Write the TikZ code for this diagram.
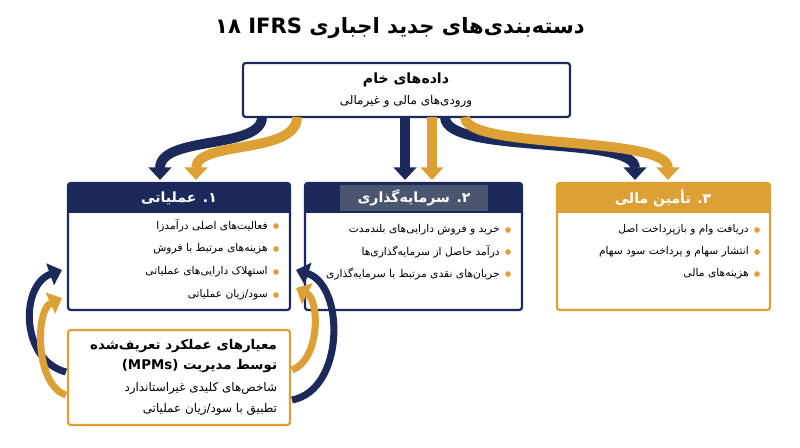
\documentclass[tikz,border=0pt]{standalone}
\usepackage{fontspec}
\newfontfamily\fa[Script=Arabic]{DejaVu Sans}
\usetikzlibrary{arrows.meta}
\TeXXeTstate=1
\newcommand{\fatext}[1]{{\fa\beginR #1\endR}}
\definecolor{navy}{HTML}{1B2A5B}
\definecolor{gold}{HTML}{DDA035}
\definecolor{slate}{HTML}{4A5670}
\begin{document}
\begin{tikzpicture}[x=0.025cm, y=-0.025cm,
    box/.style={draw=navy, line width=1.6pt, fill=white, rounded corners=2pt},
    head/.style={font=\fa\bfseries\fontsize{10}{12}\selectfont, text=white},
    item/.style={anchor=east, font=\fa\fontsize{7.6}{10}\selectfont, inner sep=0pt},
    dot/.style={circle, fill=gold, inner sep=0pt, minimum size=4pt},
    flow/.style={line width=7pt, -{Triangle[length=9pt,width=16pt]}}]
  \useasboundingbox (0,0) rectangle (800,447);
  % title
  \node[font=\fa\bfseries\fontsize{15}{18}\selectfont] (title) at (400,28) {\fatext{دسته‌بندی‌های جدید اجباری IFRS ۱۸}};
  % raw data
  \draw[box] (243,63) rectangle (570,117);
  \node[font=\fa\bfseries\fontsize{10}{12}\selectfont] (raw) at (406,80) {\fatext{داده‌های خام}};
  \node[font=\fa\fontsize{8.5}{10}\selectfont] (rawsub) at (406,101) {\fatext{ورودی‌های مالی و غیرمالی}};
  \coordinate (o1) at (262,117);  \coordinate (o2) at (297,117);
  \coordinate (o3) at (405,117);  \coordinate (o4) at (432,117);
  \coordinate (o5) at (445,117);  \coordinate (o6) at (465,117);
  \coordinate (i1) at (160,180);  \coordinate (i2) at (196,180);
  \coordinate (i3) at (405,180);  \coordinate (i4) at (432,180);
  \coordinate (i5) at (635,180);  \coordinate (i6) at (668,180);
  % flows
  \draw[flow, navy] (o1) .. controls (262,150) and (160,135) .. (i1);
  \draw[flow, gold] (o2) .. controls (297,155) and (196,140) .. (i2);
  \draw[flow, navy] (o3) -- (i3);
  \draw[flow, gold] (o4) -- (i4);
  \draw[flow, navy] (o5) .. controls (445,155) and (635,135) .. (i5);
  \draw[flow, gold] (o6) .. controls (465,150) and (668,135) .. (i6);
  % box 1
  \draw[box] (68,183) rectangle (290,310);
  \fill[navy] (68,183) rectangle (290,213);
  \node[head] (h1) at (179,198) {\fatext{۱. عملیاتی}};
  \foreach \t [count=\i] in {فعالیت‌های اصلی درآمدزا, هزینه‌های مرتبط با فروش, استهلاک دارایی‌های عملیاتی, سود/زیان عملیاتی}{
    \node[dot] (da\i) at (276,203+\i*23) {};
    \node[item] (ta\i) at (268,203+\i*23) {\fatext{\t}};
  }
  % box 2
  \draw[box] (305,183) rectangle (522,310);
  \fill[navy] (305,183) rectangle (522,213);
  \fill[slate] (340,185) rectangle (488,211);
  \node[head] (h2) at (414,198) {\fatext{۲. سرمایه‌گذاری}};
  \foreach \t [count=\i] in {خرید و فروش دارایی‌های بلندمدت, درآمد حاصل از سرمایه‌گذاری‌ها, جریان‌های نقدی مرتبط با سرمایه‌گذاری}{
    \node[dot] (db\i) at (508,208+\i*22) {};
    \node[item] (tb\i) at (500,208+\i*22) {\fatext{\t}};
  }
  % box 3
  \draw[box, draw=gold] (557,183) rectangle (770,310);
  \fill[gold] (557,183) rectangle (770,213);
  \node[head] (h3) at (663,198) {\fatext{۳. تأمین مالی}};
  \foreach \t [count=\i] in {دریافت وام و بازپرداخت اصل, انتشار سهام و پرداخت سود سهام, هزینه‌های مالی}{
    \node[dot] (dc\i) at (757,208+\i*22) {};
    \node[item] (tc\i) at (749,208+\i*22) {\fatext{\t}};
  }
  % MPM box
  \draw[box, draw=gold] (68,330) rectangle (290,425);
  \node[font=\fa\bfseries\fontsize{9.5}{12}\selectfont, anchor=east] (m1) at (282,346) {\fatext{معیارهای عملکرد تعریف‌شده}};
  \node[font=\fa\bfseries\fontsize{9.5}{12}\selectfont, anchor=east] (m2) at (282,366) {\fatext{توسط مدیریت (MPMs)}};
  \node[font=\fa\fontsize{8.5}{10}\selectfont, anchor=east] (m3) at (282,388) {\fatext{شاخص‌های کلیدی غیراستاندارد}};
  \node[font=\fa\fontsize{8.5}{10}\selectfont, anchor=east] (m4) at (282,409) {\fatext{تطبیق با سود/زیان عملیاتی}};
  % feedback loops
  \coordinate (l1) at (66,372);  \coordinate (l2) at (62,270);
  \coordinate (l3) at (66,395);  \coordinate (l4) at (62,298);
  \coordinate (r1) at (292,400); \coordinate (r2) at (296,270);
  \coordinate (r3) at (292,370); \coordinate (r4) at (296,288);
  \draw[flow, line width=5pt, navy] (l1) .. controls (20,360) and (20,285) .. (l2);
  \draw[flow, line width=5pt, gold] (l3) .. controls (35,385) and (35,310) .. (l4);
  \draw[flow, line width=5pt, navy] (r1) .. controls (345,390) and (345,285) .. (r2);
  \draw[flow, line width=5pt, gold] (r3) .. controls (320,360) and (320,300) .. (r4);
\end{tikzpicture}
\end{document}
